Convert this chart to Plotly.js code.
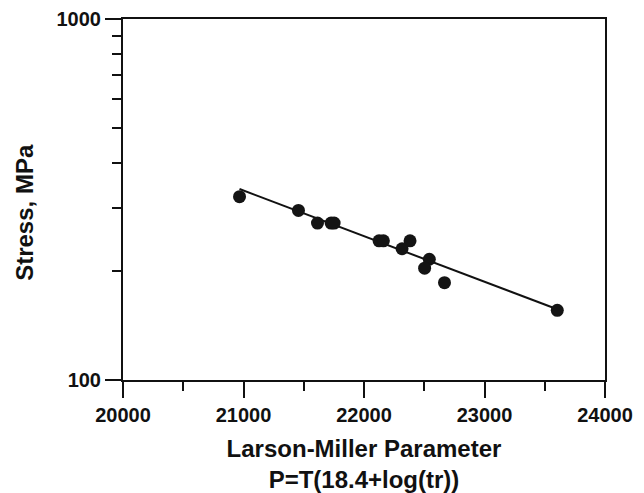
<!DOCTYPE html>
<html>
<head>
<meta charset="utf-8">
<script src="https://cdn.plot.ly/plotly-3.0.1.min.js"></script>
<style>html,body{margin:0;padding:0;background:#fff;}#chart{width:644px;height:493px;}</style>
</head>
<body>
<div id="chart"></div>
<script>
// Data
const lmp = [20967, 21456, 21614, 21727, 21752, 22125, 22161, 22382, 22316, 22542, 22503, 22668, 23604];
const stress = [322, 295, 272, 272, 272, 243, 243, 243, 231, 216, 204, 186, 156];
const fitX = [20967, 23604];
const fitY = [338, 157];
const xTicks = [20000, 21000, 22000, 23000, 24000];
const xTickText = ['20000', '21000', '22000', '23000', '24000'];
const yTicks = [100, 1000];
const yTickText = ['100', '1000'];
const yMinor = [200, 300, 400, 500, 600, 700, 800, 900];

const fontFam = 'Liberation Sans, Arial, Helvetica, sans-serif';

const traces = [
  {x: fitX, y: fitY, type: 'scatter', mode: 'lines',
   line: {color: '#111', width: 2}, hoverinfo: 'skip', showlegend: false},
  {x: lmp, y: stress, type: 'scatter', mode: 'markers',
   marker: {color: '#141414', size: 13}, showlegend: false}
];

const layout = {
  width: 644, height: 493,
  margin: {l: 123, r: 39, t: 19, b: 112.5},
  paper_bgcolor: '#fff', plot_bgcolor: '#fff',
  showlegend: false,
  font: {family: fontFam, color: '#111'},
  xaxis: {
    range: [20000, 24000],
    tickmode: 'array', tickvals: xTicks, ticktext: xTickText,
    ticks: 'outside', ticklen: 16, tickwidth: 2, tickcolor: '#111',
    minor: {dtick: 500, tick0: 20000, ticks: 'outside', ticklen: 9, tickwidth: 2, tickcolor: '#111', showgrid: false},
    showline: true, linewidth: 2, linecolor: '#111', mirror: true,
    showgrid: false, zeroline: false,
    tickfont: {family: fontFam, size: 20, weight: 'bold', color: '#111'},
    title: {text: 'Larson-Miller Parameter<br>P=T(18.4+log(tr))', standoff: 15,
            font: {family: fontFam, size: 24, weight: 'bold', color: '#111'}}
  },
  yaxis: {
    type: 'log', range: [2, 3],
    tickmode: 'array', tickvals: yTicks, ticktext: yTickText,
    ticks: 'outside', ticklen: 16, tickwidth: 2, tickcolor: '#111',
    minor: {tickmode: 'array', tickvals: yMinor, ticks: 'outside', ticklen: 9, tickwidth: 2, tickcolor: '#111', showgrid: false},
    showline: true, linewidth: 2, linecolor: '#111', mirror: true,
    showgrid: false, zeroline: false,
    tickfont: {family: fontFam, size: 20, weight: 'bold', color: '#111'}
  },
  annotations: [
    {text: 'Stress, MPa', xref: 'paper', yref: 'paper', x: -0.2042, y: 0.4647,
     xanchor: 'center', yanchor: 'middle', textangle: -90, showarrow: false,
     font: {family: fontFam, size: 24, weight: 'bold', color: '#111'}}
  ]
};

Plotly.newPlot('chart', traces, layout, {displayModeBar: false, staticPlot: true});
</script>
</body>
</html>
